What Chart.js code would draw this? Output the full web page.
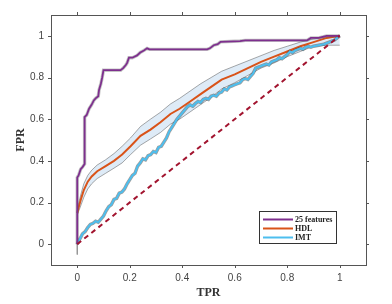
<!DOCTYPE html>
<html><head><meta charset="utf-8">
<script src="https://cdn.jsdelivr.net/npm/chart.js@4/dist/chart.umd.min.js"></script>
<style>html,body{margin:0;padding:0;background:#fff;}</style>
</head><body>
<canvas id="c" width="392" height="304"></canvas>
<script>
// ---- data ----
const seriesNames = ['25 features', 'HDL', 'IMT'];
const tickVals = [0, 0.2, 0.4, 0.6, 0.8, 1];
const tickLabels = ['0', '0.2', '0.4', '0.6', '0.8', '1'];

const featX = [0, 0, 0, 0.005, 0.013, 0.02, 0.028, 0.028, 0.036, 0.045, 0.055, 0.063, 0.07, 0.08, 0.083, 0.09, 0.095, 0.1, 0.11, 0.145, 0.165, 0.175, 0.185, 0.19, 0.197, 0.21, 0.228, 0.24, 0.254, 0.266, 0.275, 0.495, 0.505, 0.52, 0.535, 0.546, 0.62, 0.64, 0.875, 0.89, 0.92, 0.95, 1];
const featY = [0, 0.03, 0.32, 0.33, 0.36, 0.37, 0.385, 0.61, 0.62, 0.65, 0.67, 0.69, 0.7, 0.71, 0.74, 0.77, 0.8, 0.835, 0.835, 0.835, 0.835, 0.845, 0.86, 0.87, 0.895, 0.895, 0.906, 0.92, 0.93, 0.94, 0.935, 0.935, 0.94, 0.955, 0.96, 0.971, 0.975, 0.978, 0.978, 0.99, 0.99, 1, 1];

const hdlX = [0, 0.006, 0.015, 0.025, 0.04, 0.055, 0.076, 0.108, 0.14, 0.171, 0.203, 0.241, 0.279, 0.317, 0.355, 0.39, 0.43, 0.47, 0.51, 0.55, 0.6, 0.65, 0.7, 0.75, 0.8, 0.85, 0.9, 0.95, 1];
const hdlY = [0.15, 0.18, 0.22, 0.26, 0.3, 0.325, 0.35, 0.375, 0.4, 0.43, 0.47, 0.52, 0.55, 0.585, 0.625, 0.65, 0.685, 0.72, 0.755, 0.79, 0.815, 0.845, 0.875, 0.9, 0.925, 0.95, 0.97, 0.99, 1];
const hdlUpper = [0.16, 0.2, 0.245, 0.29, 0.33, 0.355, 0.38, 0.405, 0.435, 0.47, 0.51, 0.565, 0.6, 0.633, 0.673, 0.7, 0.735, 0.77, 0.8, 0.83, 0.855, 0.88, 0.905, 0.93, 0.95, 0.97, 0.985, 0.995, 1];
const hdlLower = [0.14, 0.16, 0.19, 0.225, 0.265, 0.29, 0.315, 0.34, 0.365, 0.39, 0.43, 0.475, 0.505, 0.536, 0.576, 0.6, 0.635, 0.67, 0.705, 0.745, 0.775, 0.81, 0.845, 0.87, 0.9, 0.925, 0.95, 0.955, 0.955];

const imtX = [0, 0.005, 0.012, 0.02, 0.03, 0.04, 0.05, 0.06, 0.07, 0.08, 0.09, 0.1, 0.11, 0.12, 0.13, 0.14, 0.15, 0.16, 0.17, 0.18, 0.19, 0.2, 0.21, 0.22, 0.23, 0.24, 0.25, 0.26, 0.27, 0.28, 0.29, 0.3, 0.31, 0.32, 0.33, 0.34, 0.35, 0.36, 0.38, 0.4, 0.42, 0.43, 0.44, 0.45, 0.46, 0.47, 0.48, 0.49, 0.5, 0.51, 0.52, 0.53, 0.54, 0.55, 0.56, 0.57, 0.58, 0.59, 0.6, 0.61, 0.62, 0.63, 0.64, 0.65, 0.66, 0.67, 0.68, 0.69, 0.7, 0.71, 0.72, 0.73, 0.74, 0.75, 0.76, 0.77, 0.78, 0.79, 0.8, 0.81, 0.82, 0.83, 0.84, 0.85, 0.86, 0.87, 0.88, 0.89, 0.9, 0.92, 0.94, 0.96, 0.98, 1];
const imtY = [0, 0.015, 0.03, 0.05, 0.06, 0.08, 0.095, 0.1, 0.11, 0.105, 0.12, 0.135, 0.16, 0.18, 0.19, 0.215, 0.22, 0.245, 0.25, 0.265, 0.29, 0.31, 0.33, 0.34, 0.375, 0.39, 0.41, 0.405, 0.425, 0.43, 0.445, 0.44, 0.465, 0.47, 0.49, 0.51, 0.54, 0.56, 0.6, 0.63, 0.66, 0.668, 0.662, 0.675, 0.685, 0.68, 0.695, 0.7, 0.695, 0.71, 0.715, 0.71, 0.725, 0.73, 0.745, 0.74, 0.755, 0.76, 0.765, 0.77, 0.775, 0.79, 0.795, 0.79, 0.805, 0.82, 0.845, 0.85, 0.855, 0.86, 0.865, 0.86, 0.875, 0.88, 0.885, 0.895, 0.89, 0.9, 0.91, 0.925, 0.92, 0.93, 0.935, 0.94, 0.935, 0.945, 0.95, 0.945, 0.95, 0.955, 0.96, 0.97, 0.98, 1];

const chanceX = [0, 1];
const chanceY = [0, 1];

// ---- helpers ----
const pts = (xs, ys) => xs.map((x, i) => ({x: x, y: ys[i]}));
const COL = {feat: '#7E2F8E', hdl: '#D95319', imt: '#4DBEEE', chance: '#A2142F', axis: '#555555', text: '#444444'};

const framePlugin = {
  id: 'frame',
  afterDatasetsDraw(chart) {
    const {ctx, chartArea: a, scales: {x, y}} = chart;
    ctx.save();
    ctx.strokeStyle = COL.axis;
    ctx.lineWidth = 1;
    ctx.strokeRect(Math.round(a.left) + 0.5, Math.round(a.top) + 0.5, Math.round(a.right - a.left), Math.round(a.bottom - a.top));
    ctx.beginPath();
    const L = 3;
    tickVals.forEach(v => {
      const px = Math.round(x.getPixelForValue(v)) + 0.5;
      ctx.moveTo(px, a.bottom); ctx.lineTo(px, a.bottom + L);
      ctx.moveTo(px, a.top); ctx.lineTo(px, a.top - L);
      const py = Math.round(y.getPixelForValue(v)) + 0.5;
      ctx.moveTo(a.left, py); ctx.lineTo(a.left - L, py);
      ctx.moveTo(a.right, py); ctx.lineTo(a.right + L, py);
    });
    ctx.stroke();
    ctx.restore();
  }
};

const legendPlugin = {
  id: 'boxLegend',
  afterDraw(chart) {
    const {ctx, chartArea: a} = chart;
    const x0 = Math.round(a.right - 107), y0 = Math.round(a.bottom - 54), w = 77, h = 32;
    const cols = [COL.feat, COL.hdl, COL.imt];
    ctx.save();
    ctx.fillStyle = '#fff';
    ctx.fillRect(x0, y0, w, h);
    ctx.strokeStyle = '#333';
    ctx.lineWidth = 1;
    ctx.strokeRect(x0 + 0.5, y0 + 0.5, w, h);
    ctx.font = 'bold 8px "Liberation Serif"';
    ctx.textBaseline = 'middle';
    seriesNames.forEach((n, i) => {
      const yy = y0 + 8.5 + i * 9;
      ctx.strokeStyle = cols[i];
      ctx.lineWidth = 2;
      ctx.beginPath(); ctx.moveTo(x0 + 4, yy); ctx.lineTo(x0 + 34, yy); ctx.stroke();
      ctx.fillStyle = '#222';
      ctx.fillText(n, x0 + 36, yy + 0.5);
    });
    ctx.restore();
  }
};

const tickFont = {family: '"Liberation Sans", Arial, sans-serif', size: 10};
const titleFont = {family: '"Liberation Serif", "Times New Roman", serif', size: 12, weight: 'bold'};

new Chart(document.getElementById('c'), {
  type: 'line',
  data: {
    datasets: [
      {label: 'chance', data: pts(chanceX, chanceY), borderColor: COL.chance, borderWidth: 2, borderDash: [5, 4], order: 1},
      {label: seriesNames[0], data: pts(featX, featY), borderColor: COL.feat, borderWidth: 1.8, order: 2},
      {label: 'feat edge', data: pts(featX, featY), borderColor: 'rgba(90,90,90,0.35)', borderWidth: 3.4, order: 3},
      {label: seriesNames[2], data: pts(imtX, imtY), borderColor: COL.imt, borderWidth: 2, order: 4},
      {label: 'imt edge', data: pts(imtX, imtY), borderColor: 'rgba(60,60,60,0.5)', borderWidth: 3.4, order: 5},
      {label: seriesNames[1], data: pts(hdlX, hdlY), borderColor: COL.hdl, borderWidth: 2, order: 6},
      {label: 'hdl upper', data: pts(hdlX, hdlUpper), borderColor: 'rgba(80,80,80,0.7)', borderWidth: 0.7, backgroundColor: 'rgba(200,222,242,0.6)', fill: '+1', order: 8},
      {label: 'hdl lower', data: pts(hdlX, hdlLower), borderColor: 'rgba(80,80,80,0.7)', borderWidth: 0.7, order: 7},
      {label: 'feat low', data: pts([0, 0], [0, -0.05]), borderColor: 'rgba(140,140,140,0.7)', borderWidth: 1, order: 9}
    ]
  },
  options: {
    responsive: false,
    animation: false,
    devicePixelRatio: 1,
    layout: {padding: {left: 0, right: 26, top: 15, bottom: 0}},
    elements: {point: {radius: 0}, line: {tension: 0, fill: false}},
    plugins: {legend: {display: false}, tooltip: {enabled: false}},
    scales: {
      x: {
        type: 'linear', min: -0.1, max: 1.1,
        afterBuildTicks: s => { s.ticks = tickVals.map(v => ({value: v})); },
        afterFit: s => { s.height = 39; },
        grid: {display: false, drawTicks: false},
        border: {display: false},
        ticks: {padding: 7, font: tickFont, color: COL.text, maxRotation: 0, autoSkip: false,
          callback: v => tickLabels[tickVals.indexOf(v)] ?? ''},
        title: {display: true, text: 'TPR', font: titleFont, color: '#333', padding: {top: 0, bottom: 4}}
      },
      y: {
        type: 'linear', min: -0.1, max: 1.1,
        afterBuildTicks: s => { s.ticks = tickVals.map(v => ({value: v})); },
        afterFit: s => { s.width = 51; },
        grid: {display: false, drawTicks: false},
        border: {display: false},
        ticks: {padding: 7, font: tickFont, color: COL.text, autoSkip: false,
          callback: v => tickLabels[tickVals.indexOf(v)] ?? ''},
        title: {display: true, text: 'FPR', font: titleFont, color: '#333', padding: {top: 14, bottom: 0}}
      }
    }
  },
  plugins: [framePlugin, legendPlugin]
});
</script>
</body></html>
